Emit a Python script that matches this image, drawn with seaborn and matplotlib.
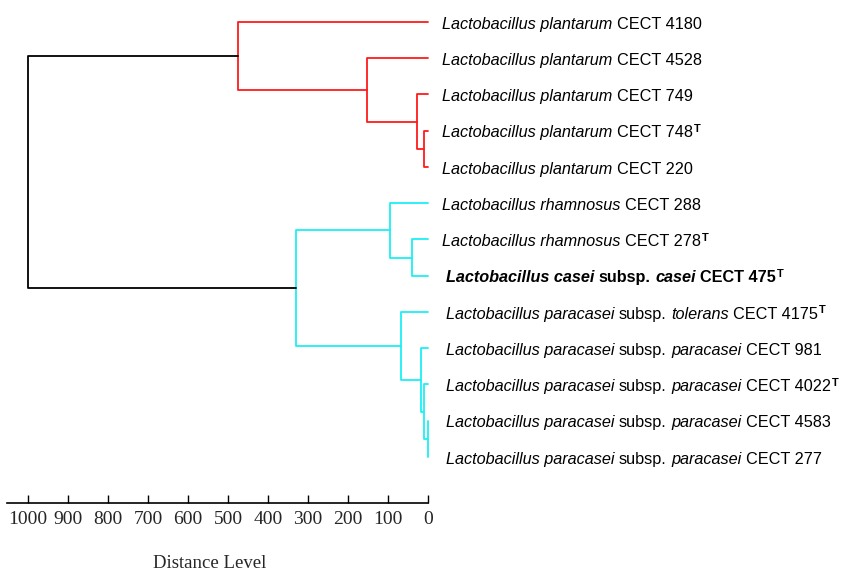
import numpy as np
import pandas as pd
import matplotlib
matplotlib.use("Agg")
import matplotlib.pyplot as plt
import seaborn as sns

# ---- data ----
leaf_species = [
    "Lactobacillus plantarum", "Lactobacillus plantarum", "Lactobacillus plantarum",
    "Lactobacillus plantarum", "Lactobacillus plantarum",
    "Lactobacillus rhamnosus", "Lactobacillus rhamnosus", "Lactobacillus casei",
    "Lactobacillus paracasei", "Lactobacillus paracasei", "Lactobacillus paracasei",
    "Lactobacillus paracasei", "Lactobacillus paracasei",
]
leaf_subsp = ["", "", "", "", "", "", "", "casei",
              "tolerans", "paracasei", "paracasei", "paracasei", "paracasei"]
leaf_strain = ["CECT 4180", "CECT 4528", "CECT 749", "CECT 748", "CECT 220",
               "CECT 288", "CECT 278", "CECT 475",
               "CECT 4175", "CECT 981", "CECT 4022", "CECT 4583", "CECT 277"]
leaf_type_strain = [False, False, False, True, False, False, True, True,
                    True, False, True, False, False]
leaf_bold = [False] * 7 + [True] + [False] * 5
leaf_group = ["plantarum"] * 5 + ["casei"] * 8

# linkage-like merges: (child_a, child_b, distance); new cluster ids start at 13
merge_a = [3, 2, 1, 0, 6, 5, 11, 10, 9, 8, 18, 16]
merge_b = [4, 13, 14, 15, 7, 17, 12, 19, 20, 21, 22, 23]
merge_dist = [9, 28, 153, 475, 39, 95, 1, 9, 17.5, 68, 330, 1000]

tick_values = [1000, 900, 800, 700, 600, 500, 400, 300, 200, 100, 0]
group_colors = {"plantarum": "#ff1a1a", "casei": "#1af0f5", "root": "black"}

# ---- build segments ----
n = len(leaf_species)
pos = {i: float(i) for i in range(n)}
height = {i: 0.0 for i in range(n)}
members = {i: {leaf_group[i]} for i in range(n)}
rows = []
for k, (a, b, d) in enumerate(zip(merge_a, merge_b, merge_dist)):
    cid = n + k
    members[cid] = members[a] | members[b]
    grp = list(members[cid])[0] if len(members[cid]) == 1 else "root"
    xs = [height[a], d, d, height[b]]
    ys = [pos[a], pos[a], pos[b], pos[b]]
    for j, (x, y) in enumerate(zip(xs, ys)):
        rows.append({"seg": k, "order": j, "x": x, "y": y, "grp": grp})
    pos[cid] = (pos[a] + pos[b]) / 2
    height[cid] = d
df = pd.DataFrame(rows)

# ---- plot ----
sns.set_theme(style="white")
plt.rcParams["font.family"] = ["Liberation Sans", "DejaVu Sans"]

W, H = 849, 573
fig = plt.figure(figsize=(W / 100, H / 100), dpi=100)
left_px, right_px, top_px, bot_px = 7.3, 428.0, 10.0, 503.0
ax = fig.add_axes([left_px / W, 1 - bot_px / H, (right_px - left_px) / W, (bot_px - top_px) / H])

sns.lineplot(data=df, x="x", y="y", units="seg", estimator=None, hue="grp",
             palette=group_colors, sort=False, legend=False, linewidth=1.3,
             ax=ax, clip_on=False)

ax.set_xlim(1052, 0)
spacing = 36.25
ax.set_ylim((bot_px - 22) / spacing, -(22 - top_px) / spacing)

FS = 11.7
SP = 0.278 * FS  # width of a space in points
for i in range(n):
    w = "bold" if leaf_bold[i] else "normal"
    pieces = [(leaf_species[i], "italic")]
    if leaf_subsp[i]:
        pieces += [("subsp.", "normal"), (leaf_subsp[i], "italic")]
    pieces += [(leaf_strain[i], "normal")]
    prev = None
    x_off = 10.3 if not leaf_subsp[i] else 13.0
    for txt, st in pieces:
        if prev is None:
            prev = ax.annotate(txt, xy=(0, i), xytext=(x_off, -1.5), textcoords="offset points",
                               ha="left", va="center", fontsize=FS, fontstyle=st,
                               fontweight=w, color="black", annotation_clip=False)
        else:
            prev = ax.annotate(txt, xy=(1, 0), xycoords=prev, xytext=(SP, 0),
                               textcoords="offset points", ha="left", va="bottom",
                               fontsize=FS, fontstyle=st, fontweight=w, color="black")
    if leaf_type_strain[i]:
        ax.annotate("T", xy=(1, 1), xycoords=prev, xytext=(0.4, 1.0),
                    textcoords="offset points", ha="left", va="top",
                    fontsize=FS * 0.68, fontweight="bold",
                    color="black")

ax.set_xticks(tick_values)
ax.set_xticklabels([str(t) for t in tick_values], fontfamily="Liberation Serif", fontsize=14)
ax.set_yticks([])
ax.set_ylabel("")
ax.set_xlabel("Distance Level", fontfamily="Liberation Serif", fontsize=13.5)
ax.xaxis.set_label_coords((210 - left_px) / (right_px - left_px), -(563 - bot_px) / (bot_px - top_px))
ax.xaxis.label.set_va("center")
ax.tick_params(axis="x", direction="in", length=6, width=1, color="black", pad=6, bottom=True)
for s in ["top", "right", "left"]:
    ax.spines[s].set_visible(False)
ax.spines["bottom"].set_color("black")
ax.spines["bottom"].set_linewidth(1.2)
ax.set_facecolor("white")

fig.savefig("out.png", dpi=100, facecolor="white")
